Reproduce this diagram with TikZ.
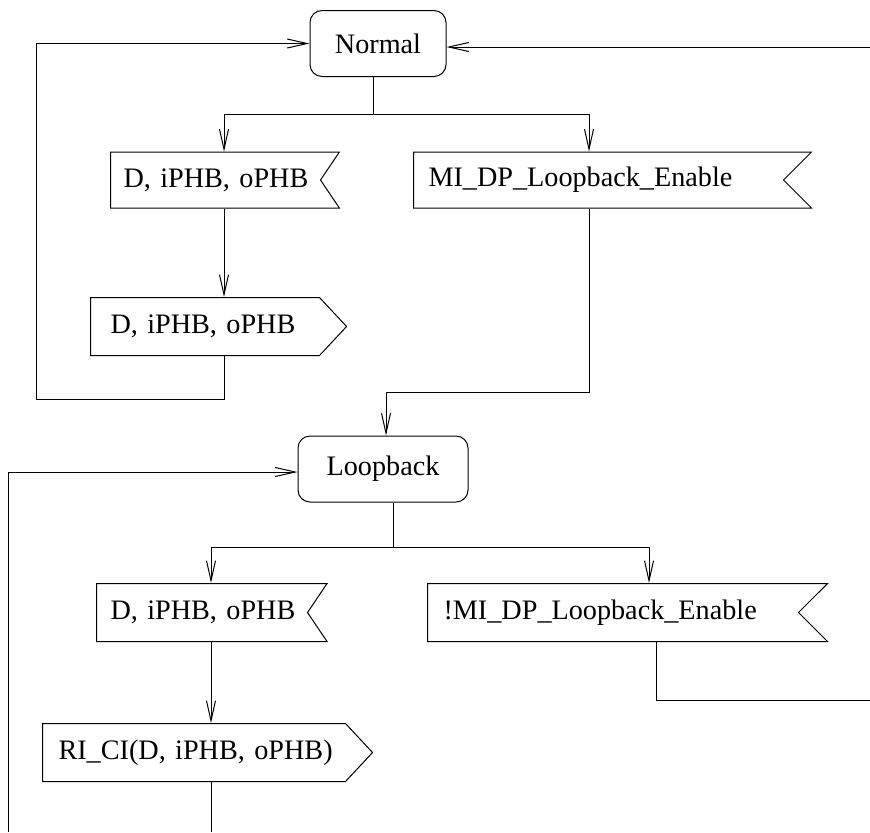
\documentclass[tikz,border=0pt]{standalone}
\usepackage{fontspec}
\setmainfont{Liberation Serif}
\newfontfamily\sdlfont{Liberation Serif}
\usetikzlibrary{shapes.symbols,arrows.meta,calc}

\tikzset{
  state/.style={draw, rounded corners=6pt, minimum width=68pt, minimum height=33pt},
  inbox/.style={draw, shape=signal, signal to=nowhere, signal from=east,
    signal pointer angle=90, minimum height=29pt, inner xsep=7.5pt,
    text width=170pt, anchor=west, align=left},
  shortin/.style={inbox, signal pointer angle=112, inner xsep=6.5pt, text width=92pt},
  outbox/.style={draw, shape=signal, signal to=east, signal pointer angle=94,
    minimum height=29pt, anchor=west, align=left},
  flow/.style={-{Straight Barb[length=10pt,width=4.5pt]}},
}

\begin{document}
\begin{tikzpicture}[x=0.5pt, y=-0.5pt, line width=0.5pt,
  font=\sdlfont\fontsize{14.1pt}{17pt}\selectfont]
\useasboundingbox (0,0) rectangle (870,832);
% states
\node[state] (normal) at (378,43.5) {Normal};
\node[state, minimum width=85pt] (loopback) at (383,469) {Loopback};
% signals from Normal
\node[shortin, minimum height=28pt] (in1) at (110,180) {\mbox{D, iPHB, oPHB}};
\node[inbox, minimum height=28pt] (in2) at (413,180) {\mbox{MI\_DP\_Loopback\_Enable}};
\node[outbox, inner xsep=10pt, text width=94.5pt] (out1) at (90,326.5) {\mbox{D, iPHB, oPHB}};
% signals from Loopback
\node[shortin, inner xsep=7pt, text width=91.5pt] (in3) at (96,612.5) {\mbox{D, iPHB, oPHB}};
\node[inbox, inner xsep=8pt, text width=169.5pt] (in4) at (427,612.5) {\mbox{!MI\_DP\_Loopback\_Enable}};
\node[outbox, inner xsep=8pt, text width=135.5pt] (out3) at (42,752.5) {\mbox{RI\_CI(D, iPHB, oPHB)}};
% columns and bends
\coordinate (split1) at (373,114);
\coordinate (colA) at (224,0);
\coordinate (colB) at (589,0);
\coordinate (loop1) at (36,399);
\coordinate (bend1) at (386,392);
\coordinate (split2) at (393,547);
\coordinate (colC) at (211,0);
\coordinate (colD) at (649,0);
\coordinate (colE) at (656,0);
\coordinate (rightin) at (870,47);
\coordinate (rightout) at (870,700);
\coordinate (bottomA) at (211,832);
\coordinate (bottomB) at (8,832);
% Normal branch
\draw (normal.south -| split1) -- (split1);
\draw[flow] (split1) -| (in1.north -| colA);
\draw[flow] (split1) -| (in2.north -| colB);
\draw[flow] (in1.south -| colA) -- (out1.north -| colA);
\draw[flow] (out1.south -| colA) |- (loop1) |- (normal.west);
\draw[flow] (in2.south -| colB) |- (bend1) -- (bend1 |- loopback.north);
\draw[flow] (rightin) -- (normal.east |- rightin);
% Loopback branch
\draw (loopback.south -| split2) -- (split2);
\draw[flow] (split2) -| (in3.north -| colC);
\draw[flow] (split2) -| (in4.north -| colD);
\draw[flow] (in3.south -| colC) -- (out3.north -| colC);
\draw (out3.south -| colC) -- (bottomA);
\draw (in4.south -| colE) |- (rightout);
\draw[flow] (bottomB) |- (loopback.west |- 0,472);
\end{tikzpicture}
\end{document}
